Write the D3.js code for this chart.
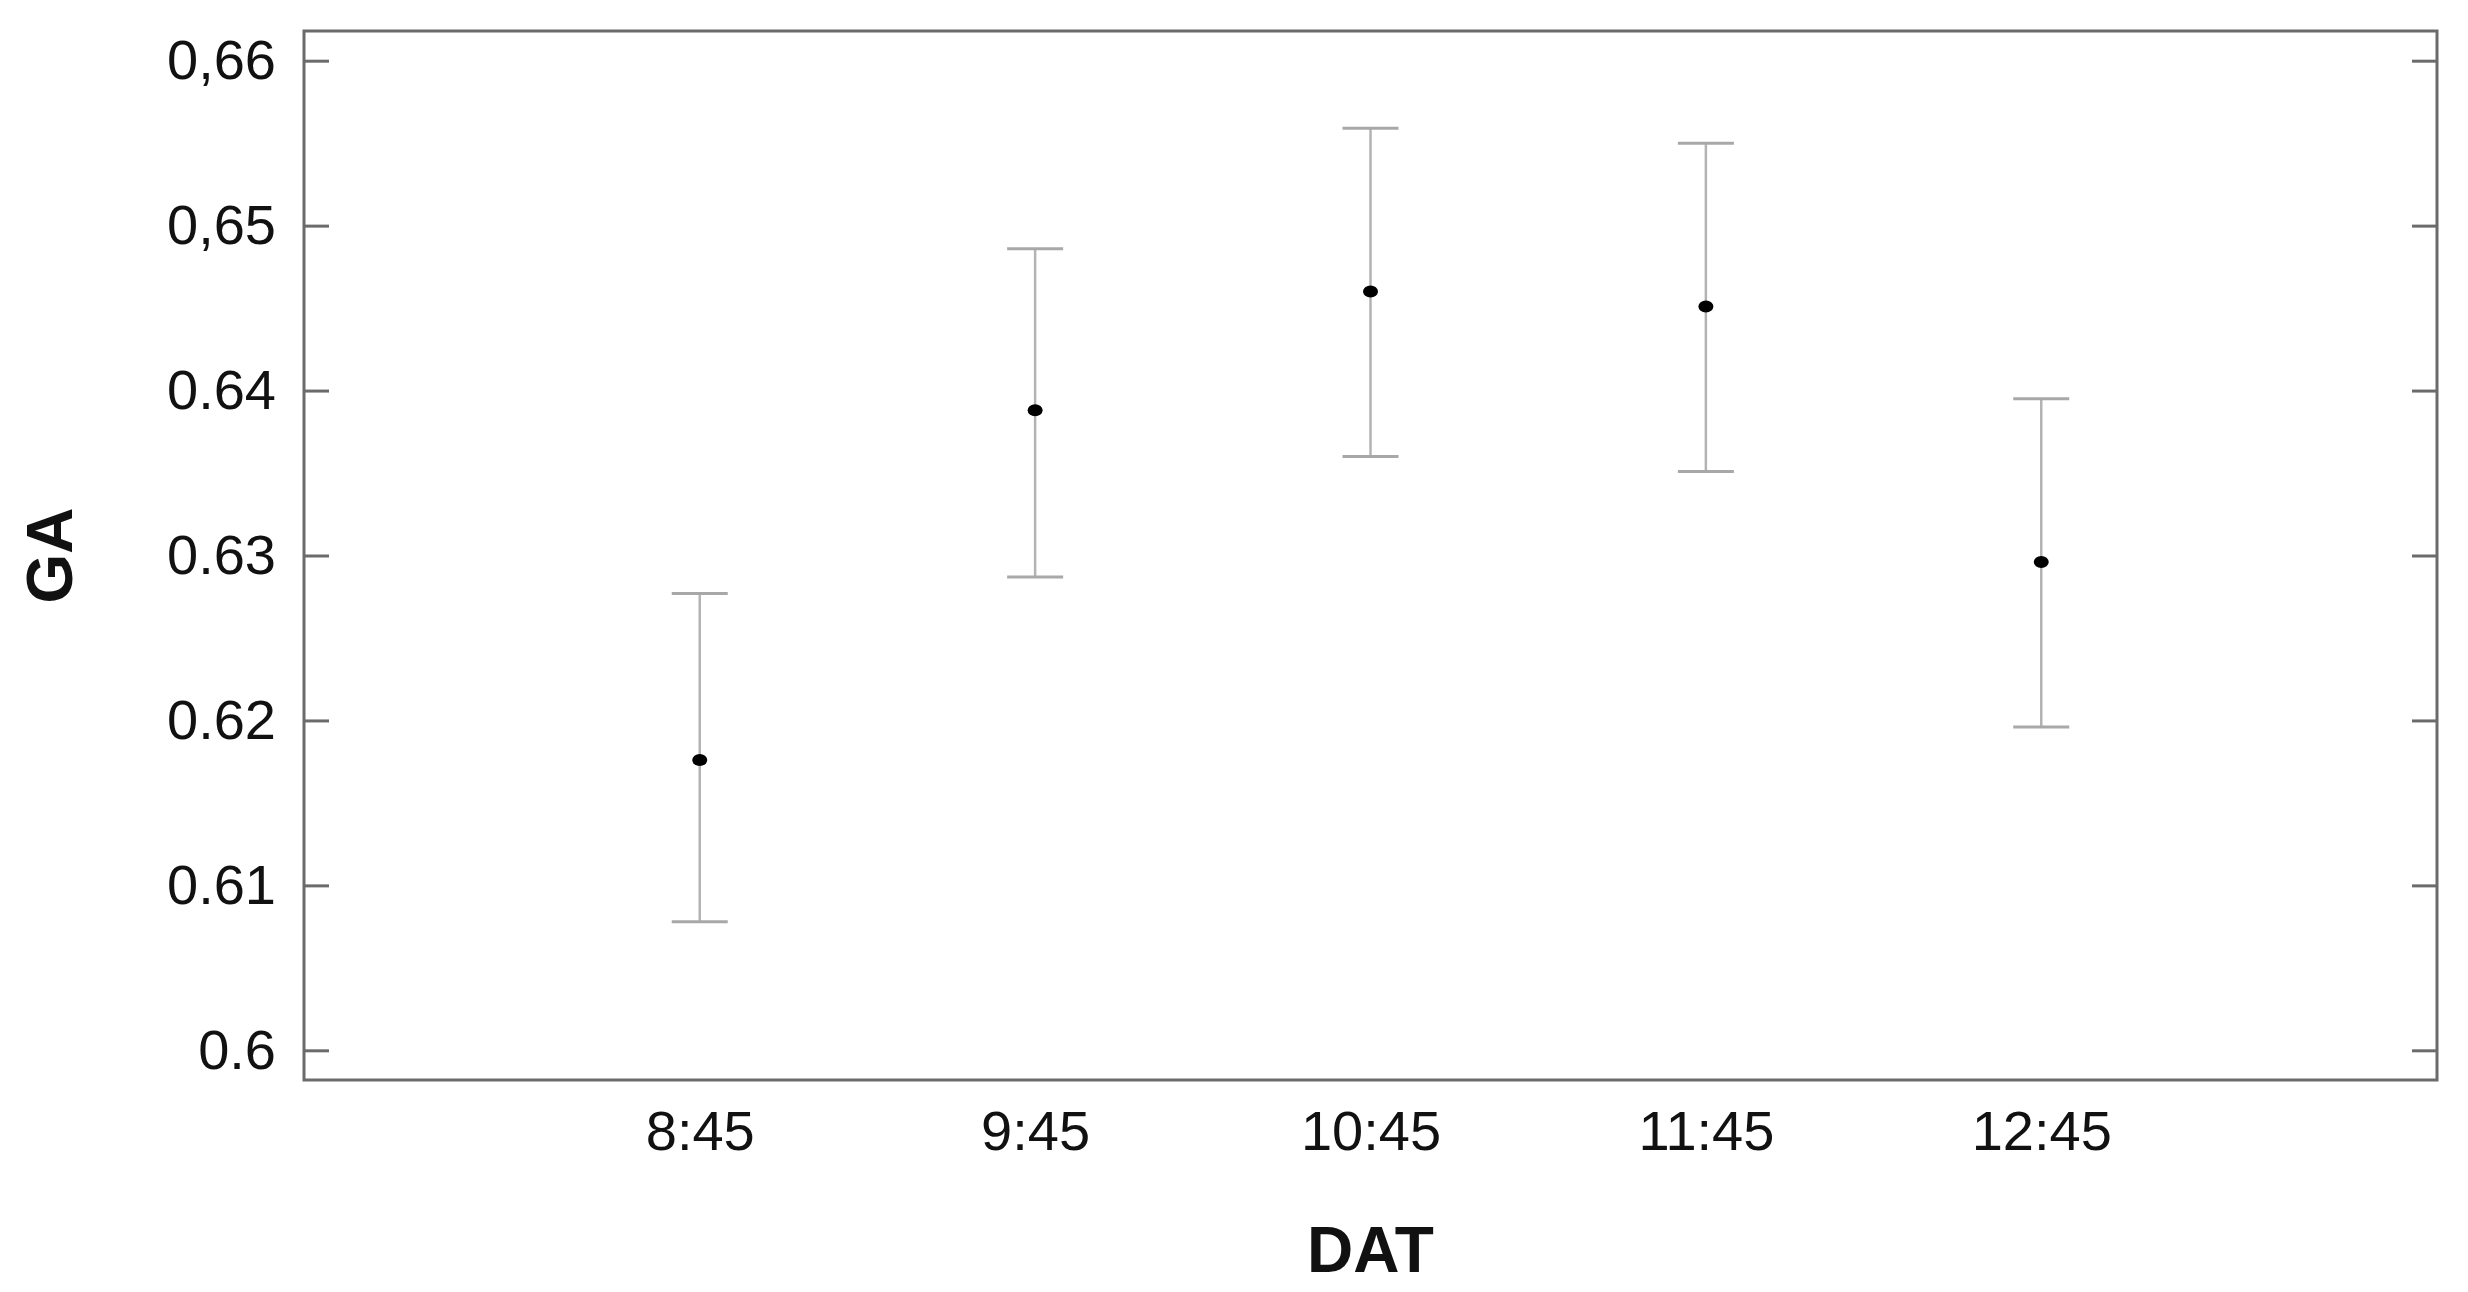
<!DOCTYPE html>
<html><head><meta charset="utf-8">
<script src="https://cdn.jsdelivr.net/npm/d3@7"></script>
<style>body{margin:0;background:#fff}</style></head>
<body><svg id="c" width="2468" height="1292"></svg>
<script>
const categories = ["8:45","9:45","10:45","11:45","12:45"];
const means = [0.6176,0.6388,0.6460,0.6451,0.6296];
const lower = [0.6078,0.6287,0.6360,0.6351,0.6196];
const upper = [0.6277,0.6486,0.6559,0.6550,0.6395];
const yTicks = [0.6,0.61,0.62,0.63,0.64,0.65,0.66];
const yTickLabels = ["0.6","0.61","0.62","0.63","0.64","0,65","0,66"];

const L=304,R=2437,T=31,B=1080;
const svg=d3.select("#c");
const x=d3.scaleLinear().domain([-1.18,5.18]).range([L,R]);
const y=d3.scaleLinear().domain([0.5982,0.6618]).range([B,T]);
const font="'Liberation Sans', Arial, sans-serif";

svg.append("rect").attr("x",L).attr("y",T).attr("width",R-L).attr("height",B-T)
  .attr("fill","none").attr("stroke","#6b6b6b").attr("stroke-width",3);

const ga=svg.append("g").attr("transform",`translate(${L},0)`)
  .call(d3.axisLeft(y).tickValues(yTicks).tickFormat((d,i)=>yTickLabels[i]).tickSizeInner(-25).tickSizeOuter(0).tickPadding(28));
ga.select(".domain").remove();
ga.selectAll("line").attr("stroke","#6b6b6b").attr("stroke-width",3);
ga.selectAll("text").attr("font-family",font).attr("font-size",56).attr("fill","#111");
const gr=svg.append("g").attr("transform",`translate(${R},0)`)
  .call(d3.axisRight(y).tickValues(yTicks).tickFormat("").tickSizeInner(-25).tickSizeOuter(0));
gr.select(".domain").remove();
gr.selectAll("line").attr("stroke","#6b6b6b").attr("stroke-width",3);

const gx=svg.append("g").attr("transform",`translate(0,${B})`)
  .call(d3.axisBottom(x).tickValues(d3.range(categories.length)).tickFormat(i=>categories[i]).tickSize(0).tickPadding(30));
gx.select(".domain").remove();
gx.selectAll("text").attr("font-family",font).attr("font-size",56).attr("fill","#111");

const g=svg.append("g");
categories.forEach((c,i)=>{
  const cx=x(i), cw=28;
  g.append("line").attr("x1",cx).attr("x2",cx).attr("y1",y(lower[i])).attr("y2",y(upper[i])).attr("stroke","#b3b3b3").attr("stroke-width",2.5);
  [lower[i],upper[i]].forEach(v=>g.append("line").attr("x1",cx-cw).attr("x2",cx+cw).attr("y1",y(v)).attr("y2",y(v)).attr("stroke","#a8a8a8").attr("stroke-width",3));
  g.append("ellipse").attr("cx",cx).attr("cy",y(means[i])).attr("rx",7.5).attr("ry",6).attr("fill","#000");
});

svg.append("text").attr("x",(L+R)/2).attr("y",1272).attr("text-anchor","middle")
  .attr("font-family",font).attr("font-weight","bold").attr("font-size",64).attr("fill","#111").text("DAT");
svg.append("text").attr("transform",`translate(72,${(T+B)/2}) rotate(-90)`).attr("text-anchor","middle")
  .attr("font-family",font).attr("font-weight","bold").attr("font-size",64).attr("fill","#111").text("GA");
</script></body></html>
